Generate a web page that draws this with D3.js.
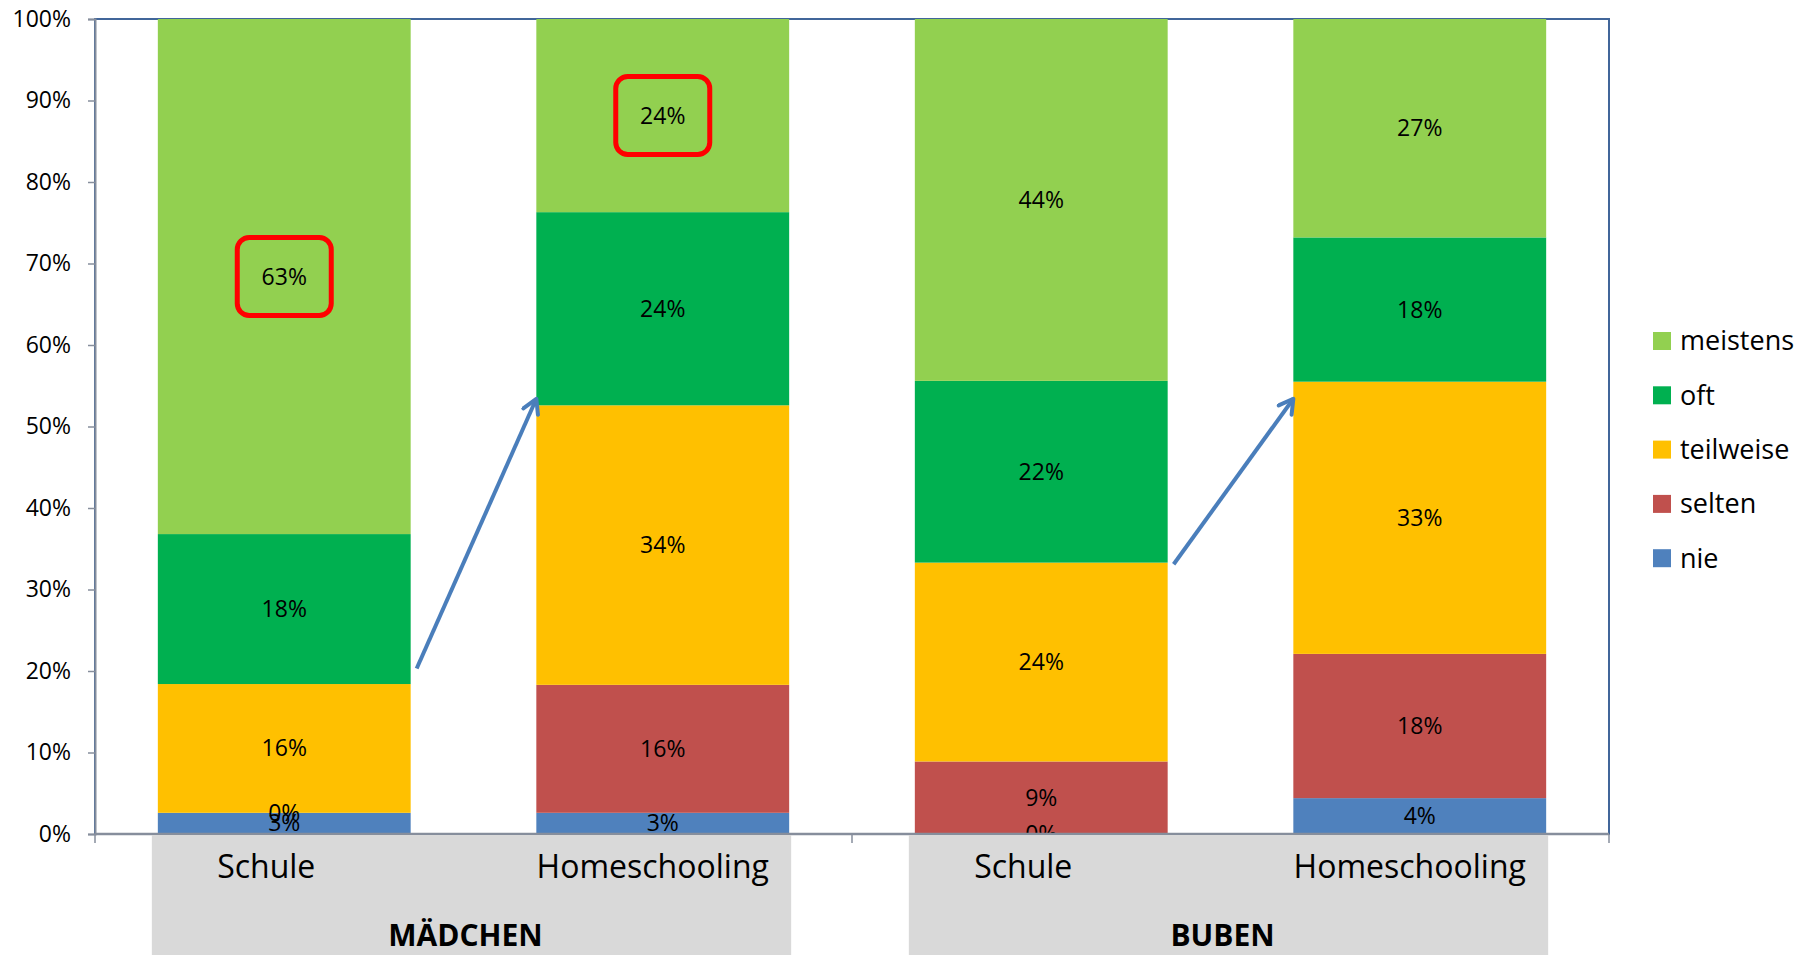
<!DOCTYPE html>
<html>
<head>
<meta charset="utf-8">
<script src="https://cdn.jsdelivr.net/npm/d3@7"></script>
<style>
  body { margin: 0; background: #fff; }
  text { font-family: "Open Sans", "Noto Sans", sans-serif; }
</style>
</head>
<body>
<div class="canvas"></div>
<script>
// data (percent per bar)
const barIds = ["m-schule", "m-home", "b-schule", "b-home"];
const categories = ["Schule", "Homeschooling", "Schule", "Homeschooling"];
const groups = ["MÄDCHEN", "BUBEN"];
const levels = ["nie", "selten", "teilweise", "oft", "meistens"];
const nie = [2.6, 2.6, 0, 4.4];
const selten = [0, 15.7, 8.9, 17.7];
const teilweise = [15.8, 34.3, 24.4, 33.4];
const oft = [18.4, 23.7, 22.3, 17.7];
const meistens = [63.2, 23.7, 44.4, 26.8];
const yTicks = [0, 10, 20, 30, 40, 50, 60, 70, 80, 90, 100];

// annotations: red boxes on segments, arrows between bars (value = y level in %)
const highlights = [{bar: 0, level: "meistens"}, {bar: 1, level: "meistens"}];
const arrows = [{from: 0, fromY: 20.3, to: 1, toY: 53.4}, {from: 2, fromY: 33.1, to: 3, toY: 53.4}];

const colors = d3.scaleOrdinal()
  .domain(levels)
  .range(["#4f81bd", "#c0504d", "#ffc000", "#00b050", "#92d050"]);

const dims = {width: 1810, height: 955};
const plot = {left: 95, right: 1609, top: 19, bottom: 834};

const svg = d3.select(".canvas")
  .append("svg")
  .attr("width", dims.width)
  .attr("height", dims.height);

const x = d3.scaleBand()
  .domain(barIds)
  .range([plot.left, plot.right])
  .paddingInner(0.332)
  .paddingOuter(0.166);

const y = d3.scaleLinear().domain([0, 100]).range([plot.bottom, plot.top]);

const rows = barIds.map((id, i) => ({
  id, nie: nie[i], selten: selten[i], teilweise: teilweise[i], oft: oft[i], meistens: meistens[i]
}));
const stacked = d3.stack().keys(levels)(rows);

// plot frame
svg.append("rect")
  .attr("x", plot.left).attr("y", plot.top)
  .attr("width", plot.right - plot.left).attr("height", plot.bottom - plot.top)
  .attr("fill", "none").attr("stroke", "#41669a").attr("stroke-width", 2);

// bars
const layers = svg.append("g").selectAll("g")
  .data(stacked).enter().append("g")
  .attr("fill", d => colors(d.key));

layers.selectAll("rect")
  .data(d => d)
  .enter().append("rect")
  .attr("x", d => x(d.data.id))
  .attr("y", d => y(d[1]))
  .attr("width", x.bandwidth())
  .attr("height", d => y(d[0]) - y(d[1]));

// value labels
const labels = svg.append("g");
stacked.forEach(layer => {
  layer.forEach(d => {
    labels.append("text")
      .attr("x", x(d.data.id) + x.bandwidth() / 2)
      .attr("y", y((d[0] + d[1]) / 2))
      .attr("dy", "0.35em")
      .attr("text-anchor", "middle")
      .attr("font-size", 23)
      .attr("fill", "#000")
      .text(Math.round(d[1] - d[0]) + "%");
  });
});

// red highlight boxes
highlights.forEach(h => {
  const seg = stacked.find(s => s.key == h.level)[h.bar];
  const cx = x(barIds[h.bar]) + x.bandwidth() / 2;
  const cy = y((seg[0] + seg[1]) / 2);
  svg.append("rect")
    .attr("x", cx - 47).attr("y", cy - 39)
    .attr("width", 94).attr("height", 78)
    .attr("rx", 12)
    .attr("fill", "none").attr("stroke", "#ff0000").attr("stroke-width", 5);
});

// arrows
svg.append("defs").append("marker")
  .attr("id", "head")
  .attr("markerUnits", "userSpaceOnUse")
  .attr("viewBox", "0 0 20 20")
  .attr("refX", 17).attr("refY", 10)
  .attr("markerWidth", 20).attr("markerHeight", 20)
  .attr("orient", "auto")
  .append("path")
  .attr("d", "M3,2 L17,10 L3,18")
  .attr("fill", "none").attr("stroke", "#4a7ebb").attr("stroke-width", 4)
  .attr("stroke-linecap", "round").attr("stroke-linejoin", "round");

arrows.forEach(a => {
  svg.append("line")
    .attr("x1", x(barIds[a.from]) + x.bandwidth() + 6)
    .attr("y1", y(a.fromY))
    .attr("x2", x(barIds[a.to]))
    .attr("y2", y(a.toY))
    .attr("stroke", "#4a7ebb").attr("stroke-width", 4)
    .attr("marker-end", "url(#head)");
});

// y axis
const yAxis = d3.axisLeft(y)
  .tickValues(yTicks)
  .tickFormat(d => d + "%")
  .tickSize(7)
  .tickPadding(17);
const yg = svg.append("g").attr("transform", `translate(${plot.left},0)`).call(yAxis);
yg.select(".domain").attr("stroke", "#868e9c").attr("stroke-width", 2);
yg.selectAll(".tick line").attr("stroke", "#868e9c").attr("stroke-width", 1.5);
yg.selectAll("text").attr("font-size", 23).attr("fill", "#000")
  .style("font-family", "'Open Sans', sans-serif");

// bottom axis with group separators
const xg = svg.append("g");
xg.append("line")
  .attr("x1", plot.left).attr("x2", plot.right)
  .attr("y1", plot.bottom).attr("y2", plot.bottom)
  .attr("stroke", "#868e9c").attr("stroke-width", 2.5);
const sepX = [plot.left, (x(barIds[1]) + x.bandwidth() + x(barIds[2])) / 2, plot.right];
sepX.forEach(sx => {
  xg.append("line")
    .attr("x1", sx).attr("x2", sx)
    .attr("y1", plot.bottom).attr("y2", plot.bottom + 9)
    .attr("stroke", "#868e9c").attr("stroke-width", 1.5);
});

// gray category panels
groups.forEach((g, gi) => {
  const first = barIds[gi * 2], last = barIds[gi * 2 + 1];
  const x0 = x(first) - 6, x1 = x(last) + x.bandwidth() + 2;
  svg.append("rect")
    .attr("x", x0).attr("y", plot.bottom + 1)
    .attr("width", x1 - x0).attr("height", dims.height - plot.bottom)
    .attr("fill", "#d9d9d9");
  svg.append("text")
    .attr("x", (x0 + x1) / 2 - 6)
    .attr("y", 946)
    .attr("text-anchor", "middle")
    .attr("font-size", 30)
    .attr("font-weight", "bold")
    .text(g);
});

// sub-category labels sit a bit left of the bar centre, like the original
categories.forEach((c, i) => {
  const shift = c == "Schule" ? -18 : -10;
  svg.append("text")
    .attr("x", x(barIds[i]) + x.bandwidth() / 2 + shift)
    .attr("y", 878)
    .attr("text-anchor", "middle")
    .attr("font-size", 32)
    .text(c);
});

// legend (top to bottom: meistens ... nie)
const legend = svg.append("g").attr("transform", "translate(1653, 341)");
levels.slice().reverse().forEach((lv, i) => {
  const row = legend.append("g").attr("transform", `translate(0, ${i * 54.3})`);
  row.append("rect")
    .attr("x", 0).attr("y", -9)
    .attr("width", 18).attr("height", 18)
    .attr("fill", colors(lv));
  row.append("text")
    .attr("x", 27).attr("y", 0)
    .attr("dy", "0.35em")
    .attr("font-size", 27)
    .text(lv);
});
</script>
</body>
</html>
